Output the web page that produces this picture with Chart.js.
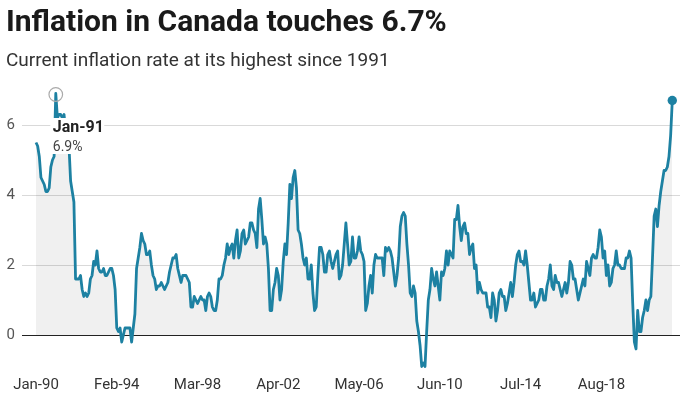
<!DOCTYPE html>
<html>
<head>
<meta charset="utf-8">
<script src="https://cdn.jsdelivr.net/npm/chart.js@4/dist/chart.umd.min.js"></script>
<style>
html,body{margin:0;padding:0;background:#fff;}
#wrap{position:relative;width:680px;height:396px;overflow:hidden;font-family:Roboto,sans-serif;}
#title{position:absolute;left:6px;top:3px;font-size:30px;font-weight:700;color:#1a1a1a;line-height:36px;white-space:nowrap;}
#sub{position:absolute;left:6px;top:48px;font-size:19px;color:#333;line-height:24px;white-space:nowrap;}
canvas{position:absolute;left:0;top:0;}
</style>
</head>
<body>
<div id="wrap">
  <canvas id="c" width="680" height="396"></canvas>
  <div id="title">Inflation in Canada touches 6.7%</div>
  <div id="sub">Current inflation rate at its highest since 1991</div>
</div>
<script>
// ---- DATA ----
const monthNames = ['Jan','Feb','Mar','Apr','May','Jun','Jul','Aug','Sep','Oct','Nov','Dec'];
const startYear = 1990;
// Year-over-year CPI change (%), monthly, Jan-1990 .. Mar-2022
const inflation = [
  5.5,5.4,5.1,4.5,4.4,4.3,4.1,4.1,4.2,4.8,5.0,5.1,   // 1990
  6.9,6.2,6.3,6.3,6.2,6.3,5.8,5.9,5.4,4.4,4.1,3.8,   // 1991
  1.6,1.6,1.6,1.7,1.3,1.1,1.2,1.1,1.2,1.6,1.7,2.1,   // 1992
  2.0,2.4,1.9,1.8,1.8,1.9,1.7,1.7,1.8,1.9,1.9,1.7,   // 1993
  1.3,0.2,0.1,0.2,-0.2,0.0,0.2,0.2,0.2,0.2,-0.2,0.2, // 1994
  0.6,1.9,2.2,2.5,2.9,2.7,2.6,2.3,2.3,2.4,2.0,1.7,   // 1995
  1.6,1.3,1.4,1.4,1.5,1.4,1.3,1.4,1.5,1.8,2.0,2.2,   // 1996
  2.2,2.3,1.9,1.7,1.5,1.7,1.7,1.7,1.6,1.5,0.8,0.8,   // 1997
  1.1,1.0,0.9,1.0,1.1,1.0,1.0,0.7,1.1,1.2,1.1,0.8,   // 1998
  0.7,0.7,1.0,1.6,1.6,1.7,2.0,2.2,2.6,2.3,2.5,2.6,   // 1999
  2.2,2.7,3.0,2.2,2.4,2.9,3.0,2.6,2.7,2.8,3.2,3.2,   // 2000
  3.0,2.9,2.5,3.6,3.9,3.3,2.6,2.8,2.6,1.9,0.7,0.7,   // 2001
  1.3,1.5,1.9,1.7,1.0,1.3,2.1,2.6,2.3,3.2,4.3,3.9,   // 2002
  4.5,4.7,4.2,3.0,2.9,2.6,2.2,2.0,2.2,1.6,1.6,2.0,   // 2003
  1.2,0.7,0.8,1.7,2.5,2.5,2.3,1.8,1.8,2.3,2.4,2.1,   // 2004
  1.9,2.1,2.3,2.4,1.6,1.7,2.0,2.6,3.2,2.6,2.0,2.1,   // 2005
  2.8,2.2,2.2,2.4,2.8,2.4,2.3,2.1,0.7,0.9,1.4,1.7,   // 2006
  1.2,2.0,2.3,2.2,2.2,2.2,2.2,1.7,2.5,2.4,2.5,2.4,   // 2007
  2.2,1.8,1.4,1.7,2.2,3.1,3.4,3.5,3.4,2.6,2.0,1.2,   // 2008
  1.1,1.4,1.2,0.4,0.1,-0.3,-0.9,-0.8,-0.9,0.1,1.0,1.3, // 2009
  1.9,1.6,1.4,1.8,1.4,1.0,1.8,1.7,1.9,2.4,2.0,2.4,   // 2010
  2.3,2.2,3.3,3.3,3.7,3.1,2.7,3.1,3.2,2.9,2.9,2.3,   // 2011
  2.5,2.6,1.9,2.0,1.2,1.5,1.3,1.2,1.2,1.2,0.8,0.8,   // 2012
  0.5,1.2,1.0,0.4,0.7,1.2,1.3,1.1,1.1,0.7,0.9,1.2,   // 2013
  1.5,1.1,1.5,2.0,2.3,2.4,2.1,2.1,2.0,2.4,2.0,1.5,   // 2014
  1.0,1.0,1.2,0.8,0.9,1.0,1.3,1.3,1.0,1.0,1.4,1.6,   // 2015
  2.0,1.4,1.3,1.7,1.5,1.5,1.3,1.1,1.3,1.5,1.2,1.5,   // 2016
  2.1,2.0,1.6,1.6,1.3,1.0,1.2,1.4,1.6,1.4,2.1,1.9,   // 2017
  1.7,2.2,2.3,2.2,2.2,2.5,3.0,2.8,2.2,2.4,1.7,2.0,   // 2018
  1.4,1.5,1.9,2.0,2.4,2.0,2.0,1.9,1.9,1.9,2.2,2.2,   // 2019
  2.4,2.2,0.9,-0.2,-0.4,0.7,0.1,0.1,0.5,0.7,1.0,0.7, // 2020
  1.0,1.1,2.2,3.4,3.6,3.1,3.7,4.1,4.4,4.7,4.7,4.8,   // 2021
  5.1,5.7,6.7                                        // 2022
];
const months = inflation.map((v, i) =>
  monthNames[i % 12] + '-' + String((startYear + Math.floor(i / 12)) % 100).padStart(2, '0'));
const xTickLabels = ['Jan-90','Feb-94','Mar-98','Apr-02','May-06','Jun-10','Jul-14','Aug-18'];
const yTickValues = [0, 2, 4, 6];
const highlightMonth = 'Jan-91';

// ---- STYLE ----
const LINE = '#1d81a2';
const xTickIdx = xTickLabels.map(l => months.indexOf(l));
const lastIdx = inflation.length - 1;
const points = inflation.map((v, i) => ({x: i, y: v}));

const annot = {
  id: 'annot',
  afterDatasetsDraw(chart) {
    const {ctx, scales: {x, y}} = chart;
    const i = months.indexOf(highlightMonth);
    const px = x.getPixelForValue(i), py = y.getPixelForValue(inflation[i]);
    ctx.save();
    ctx.beginPath();
    ctx.arc(px, py + 1, 6.8, 0, Math.PI * 2);
    ctx.strokeStyle = '#aaaaaa';
    ctx.lineWidth = 1.2;
    ctx.stroke();
    ctx.fillStyle = '#ffffff';
    ctx.fillRect(px - 5.5, py + 24.5, 54, 36);
    ctx.textBaseline = 'alphabetic';
    ctx.textAlign = 'left';
    ctx.fillStyle = '#222222';
    ctx.font = 'bold 16px Roboto';
    ctx.fillText(highlightMonth, px - 3, py + 38.5);
    ctx.fillStyle = '#444444';
    ctx.font = '14px Roboto';
    ctx.fillText(inflation[i].toFixed(1) + '%', px - 3, py + 57);
    ctx.restore();
  }
};

new Chart(document.getElementById('c'), {
  type: 'line',
  data: {
    datasets: [{
      data: points,
      borderColor: LINE,
      borderWidth: 2.8,
      borderJoinStyle: 'round',
      tension: 0,
      fill: {target: 'origin', above: 'rgba(0,0,0,0.06)', below: 'rgba(0,0,0,0)'},
      pointRadius: c => c.dataIndex === lastIdx ? 4.7 : 0,
      pointHoverRadius: 0,
      pointBackgroundColor: LINE,
      pointBorderWidth: 0
    }]
  },
  options: {
    responsive: false,
    animation: false,
    devicePixelRatio: 1,
    events: [],
    layout: {autoPadding: false, padding: {top: 90, left: 0, right: 0, bottom: 0}},
    plugins: {legend: {display: false}, tooltip: {enabled: false}},
    scales: {
      x: {
        type: 'linear',
        min: -8.49,
        max: 390.68,
        grid: {display: false, drawTicks: false},
        border: {display: false},
        afterBuildTicks: s => { s.ticks = xTickIdx.map(v => ({value: v})); },
        afterFit: s => { s.height = 26; },
        ticks: {
          autoSkip: false, maxRotation: 0, padding: 6,
          color: '#333', font: {family: 'Roboto', size: 15},
          callback: v => months[v]
        }
      },
      y: {
        min: -1,
        max: 7,
        afterBuildTicks: s => { s.ticks = yTickValues.map(v => ({value: v})); },
        afterFit: s => { s.width = 22; },
        grid: {
          color: c => (c.tick && c.tick.value === 0) ? '#222222' : '#d9d9d9',
          lineWidth: 1,
          drawTicks: false
        },
        border: {display: false},
        ticks: {padding: 7, color: '#555', font: {family: 'Roboto', size: 15}, callback: v => v}
      }
    }
  },
  plugins: [annot]
});
</script>
</body>
</html>
